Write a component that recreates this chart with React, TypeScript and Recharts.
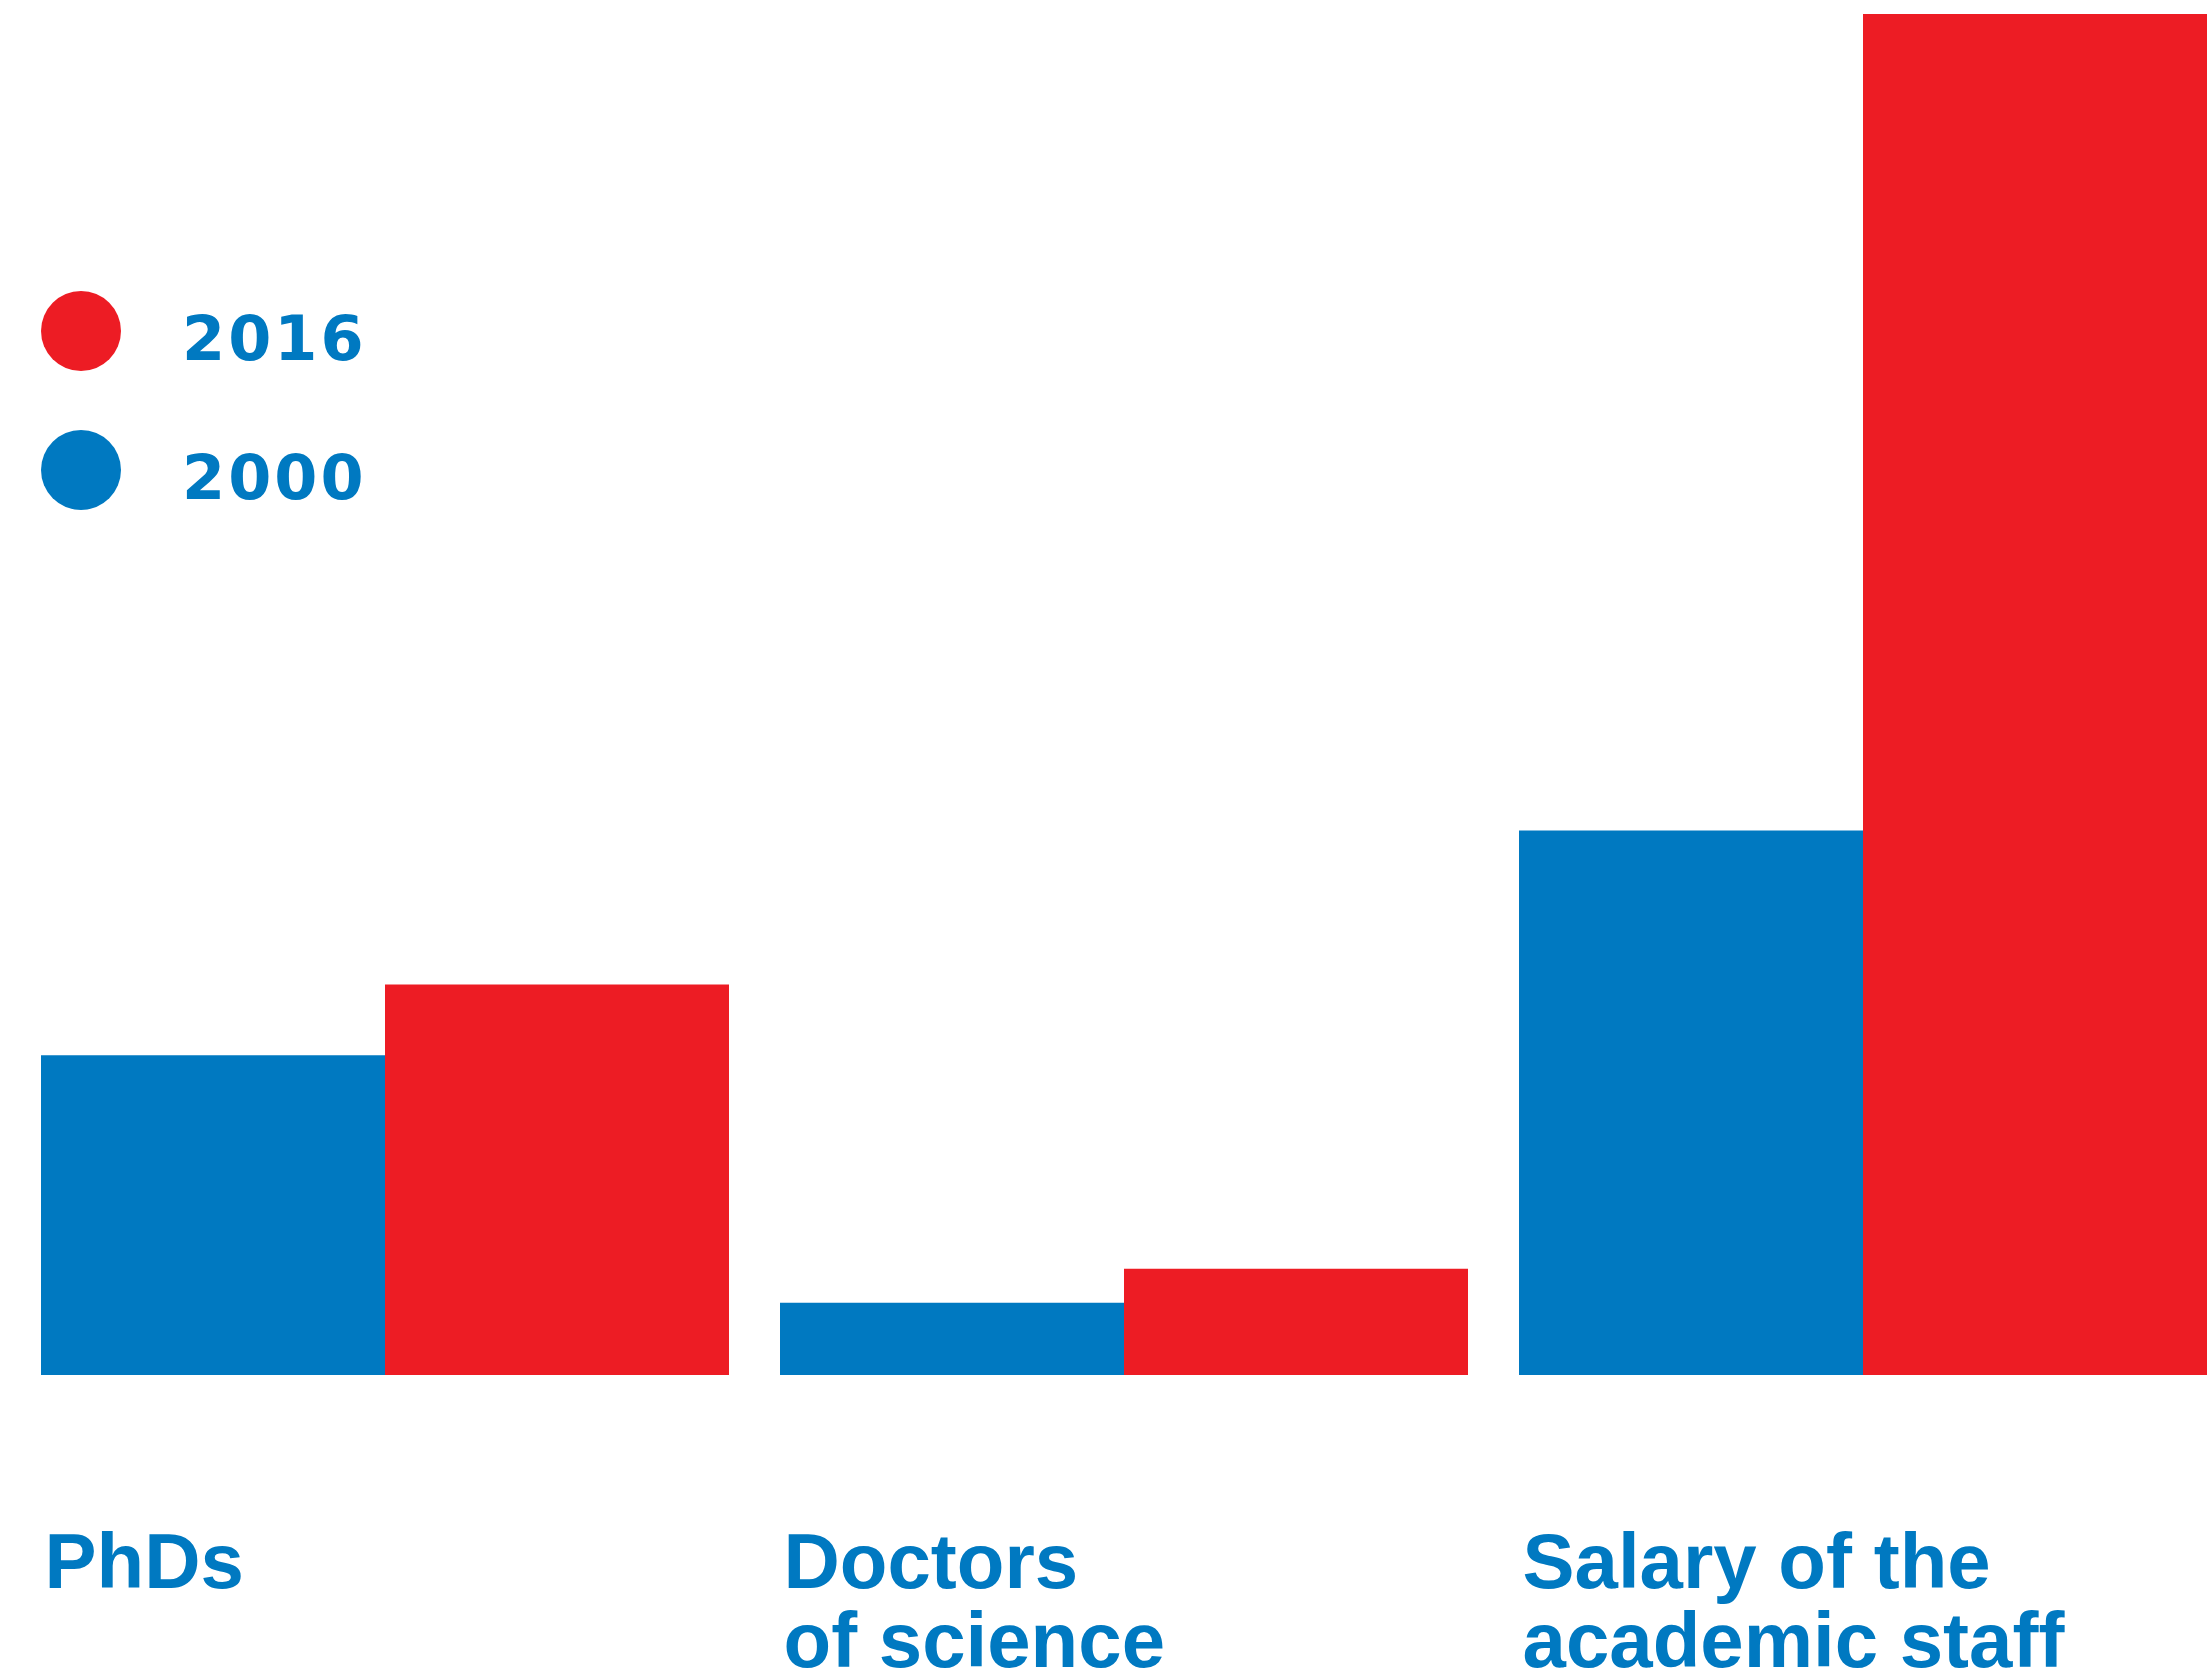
import { Bar, BarChart, Legend, XAxis, YAxis } from "recharts"

const categories = ["PhDs", "Doctors of science", "Salary of the academic staff"]
// how each category label breaks onto lines
const categoryLines = [["PhDs"], ["Doctors", "of science"], ["Salary of the", "academic staff"]]
// relative values (salary 2016 = 100)
const values2000 = [23.5, 5.3, 40.0]
const values2016 = [28.7, 7.8, 100]

const BLUE = "#0079C1"
const RED = "#ED1C24"
const FONT = "'Liberation Sans', Arial, sans-serif"

const data = categories.map((name, i) => ({
  name,
  y2000: values2000[i],
  y2016: values2016[i],
}))

function CategoryTick({ x, y, payload }: any) {
  const idx = categories.indexOf(payload.value)
  const lines = categoryLines[idx] ?? [payload.value]
  return (
    <text
      x={x - 340}
      y={y}
      fill={BLUE}
      fontFamily={FONT}
      fontWeight={700}
      fontSize={78}
      textAnchor="start"
    >
      {lines.map((line, i) => (
        <tspan key={i} x={x - 340} dy={i === 0 ? 213 : 79}>
          {line}
        </tspan>
      ))}
    </text>
  )
}

function LegendContent({ payload }: any) {
  const items = [...(payload ?? [])].reverse()
  return (
    <div style={{ display: "flex", flexDirection: "column", gap: 59 }}>
      {items.map((item: any) => (
        <div key={item.value} style={{ display: "flex", alignItems: "flex-start", height: 80 }}>
          <div style={{ width: 80, height: 80, borderRadius: "50%", background: item.color }} />
          <span
            style={{
              marginLeft: 61,
              fontFamily: "'DejaVu Sans', sans-serif",
              fontWeight: 700,
              fontSize: 62,
              lineHeight: "80px",
              letterSpacing: 3,
              color: BLUE,
              position: "relative",
              top: 8,
            }}
          >
            {item.value}
          </span>
        </div>
      ))}
    </div>
  )
}

export default function App() {
  return (
    <div
      style={{
        position: "absolute",
        left: 0,
        top: 0,
        width: 2209,
        height: 1675,
        overflow: "hidden",
        background: "#fff",
      }}
    >
      <BarChart
        width={2232}
        height={1675}
        data={data}
        margin={{ top: 14, right: 0, bottom: 0, left: 15 }}
        barGap={0}
        barCategoryGap={26}
      >
        <XAxis
          dataKey="name"
          axisLine={false}
          tickLine={false}
          tickSize={0}
          tickMargin={0}
          height={300}
          interval={0}
          tick={<CategoryTick />}
        />
        <YAxis hide domain={[0, 100]} />
        <Legend
          layout="vertical"
          align="center"
          verticalAlign="middle"
          content={<LegendContent />}
          wrapperStyle={{ left: 41, top: 291, width: 400 }}
        />
        <Bar dataKey="y2000" name="2000" fill={BLUE} isAnimationActive={false} />
        <Bar dataKey="y2016" name="2016" fill={RED} isAnimationActive={false} />
      </BarChart>
    </div>
  )
}
